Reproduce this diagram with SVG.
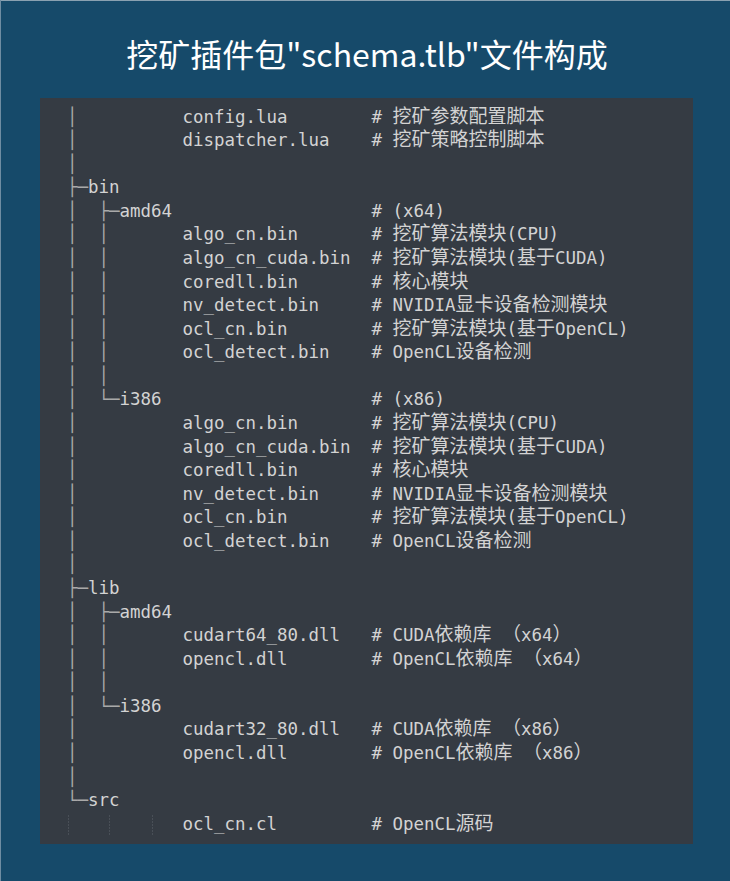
<svg xmlns="http://www.w3.org/2000/svg" width="730" height="881" viewBox="0 0 730 881">
<style>
.m{font-family:"DejaVu Sans Mono","Liberation Mono",monospace;font-size:17.45px;fill:#d3d3d3}
.c{font-family:"Noto Sans CJK SC","Noto Sans",sans-serif;font-size:19px}
.t{fill:#a9a9a9}
.g{stroke:#5f656d;stroke-width:1;stroke-dasharray:1 2}
</style>
<rect x="0" y="0" width="730" height="881" fill="#164a6a"/>
<line x1="0" y1="0.5" x2="730" y2="0.5" stroke="#8aa1b1"/>
<line x1="0.5" y1="0" x2="0.5" y2="881" stroke="#6f8da2"/>
<g id="title">
<text x="367" y="67" text-anchor="middle" font-family="'Noto Sans CJK SC','Noto Sans',sans-serif" font-size="32" fill="#ffffff">挖矿插件包"schema.tlb"文件构成</text>
</g>
<rect id="panel" x="40" y="98" width="653" height="746" fill="#353b43"/>
<g transform="translate(0,1.5)">
<g id="connectors" class="m">
<text x="67" y="121"><tspan class="t">│</tspan></text>
<text x="67" y="144.6"><tspan class="t">│</tspan></text>
<text x="67" y="168.1"><tspan class="t">│</tspan></text>
<text x="67" y="191.7"><tspan class="t">├─</tspan></text>
<text x="67" y="215.3"><tspan class="t">│</tspan><tspan class="t" x="98.5">├─</tspan></text>
<text x="67" y="238.9"><tspan class="t">│</tspan><tspan class="t" x="98.5">│</tspan></text>
<text x="67" y="262.4"><tspan class="t">│</tspan><tspan class="t" x="98.5">│</tspan></text>
<text x="67" y="286"><tspan class="t">│</tspan><tspan class="t" x="98.5">│</tspan></text>
<text x="67" y="309.6"><tspan class="t">│</tspan><tspan class="t" x="98.5">│</tspan></text>
<text x="67" y="333.1"><tspan class="t">│</tspan><tspan class="t" x="98.5">│</tspan></text>
<text x="67" y="356.7"><tspan class="t">│</tspan><tspan class="t" x="98.5">│</tspan></text>
<text x="67" y="380.3"><tspan class="t">│</tspan><tspan class="t" x="98.5">│</tspan></text>
<text x="67" y="403.8"><tspan class="t">│</tspan><tspan class="t" x="98.5">└─</tspan></text>
<text x="67" y="427.4"><tspan class="t">│</tspan></text>
<text x="67" y="451"><tspan class="t">│</tspan></text>
<text x="67" y="474.6"><tspan class="t">│</tspan></text>
<text x="67" y="498.1"><tspan class="t">│</tspan></text>
<text x="67" y="521.7"><tspan class="t">│</tspan></text>
<text x="67" y="545.3"><tspan class="t">│</tspan></text>
<text x="67" y="568.8"><tspan class="t">│</tspan></text>
<text x="67" y="592.4"><tspan class="t">├─</tspan></text>
<text x="67" y="616"><tspan class="t">│</tspan><tspan class="t" x="98.5">├─</tspan></text>
<text x="67" y="639.5"><tspan class="t">│</tspan><tspan class="t" x="98.5">│</tspan></text>
<text x="67" y="663.1"><tspan class="t">│</tspan><tspan class="t" x="98.5">│</tspan></text>
<text x="67" y="686.7"><tspan class="t">│</tspan><tspan class="t" x="98.5">│</tspan></text>
<text x="67" y="710.3"><tspan class="t">│</tspan><tspan class="t" x="98.5">└─</tspan></text>
<text x="67" y="733.8"><tspan class="t">│</tspan></text>
<text x="67" y="757.4"><tspan class="t">│</tspan></text>
<text x="67" y="781"><tspan class="t">│</tspan></text>
<text x="67" y="804.5"><tspan class="t">└─</tspan></text>
<line class="g" x1="68.5" y1="814" x2="68.5" y2="833"/>
<line class="g" x1="109.5" y1="814" x2="109.5" y2="833"/>
<line class="g" x1="152.5" y1="814" x2="152.5" y2="833"/>
</g>
<g id="dir-bin" class="m"><text x="88" y="191.7">bin</text></g>
<g id="dir-bin-amd64" class="m"><text x="119.5" y="215.3">amd64</text><text x="371.5" y="215.3"># (x64)</text></g>
<g id="dir-bin-i386" class="m"><text x="119.5" y="403.8">i386</text><text x="371.5" y="403.8"># (x86)</text></g>
<g id="dir-lib" class="m"><text x="88" y="592.4">lib</text></g>
<g id="dir-lib-amd64" class="m"><text x="119.5" y="616">amd64</text></g>
<g id="dir-lib-i386" class="m"><text x="119.5" y="710.3">i386</text></g>
<g id="dir-src" class="m"><text x="88" y="804.5">src</text></g>
<g id="f-config" class="m"><text x="182.5" y="121">config.lua</text><text x="371.5" y="121"># <tspan class="c">挖矿参数配置脚本</tspan></text></g>
<g id="f-dispatcher" class="m"><text x="182.5" y="144.6">dispatcher.lua</text><text x="371.5" y="144.6"># <tspan class="c">挖矿策略控制脚本</tspan></text></g>
<g id="f-bin64-algo" class="m"><text x="182.5" y="238.9">algo_cn.bin</text><text x="371.5" y="238.9"># <tspan class="c">挖矿算法模块</tspan>(CPU)</text></g>
<g id="f-bin64-cuda" class="m"><text x="182.5" y="262.4">algo_cn_cuda.bin</text><text x="371.5" y="262.4"># <tspan class="c">挖矿算法模块</tspan>(<tspan class="c">基于</tspan>CUDA)</text></g>
<g id="f-bin64-core" class="m"><text x="182.5" y="286">coredll.bin</text><text x="371.5" y="286"># <tspan class="c">核心模块</tspan></text></g>
<g id="f-bin64-nv" class="m"><text x="182.5" y="309.6">nv_detect.bin</text><text x="371.5" y="309.6"># NVIDIA<tspan class="c">显卡设备检测模块</tspan></text></g>
<g id="f-bin64-ocl" class="m"><text x="182.5" y="333.1">ocl_cn.bin</text><text x="371.5" y="333.1"># <tspan class="c">挖矿算法模块</tspan>(<tspan class="c">基于</tspan>OpenCL)</text></g>
<g id="f-bin64-ocldet" class="m"><text x="182.5" y="356.7">ocl_detect.bin</text><text x="371.5" y="356.7"># OpenCL<tspan class="c">设备检测</tspan></text></g>
<g id="f-bin32-algo" class="m"><text x="182.5" y="427.4">algo_cn.bin</text><text x="371.5" y="427.4"># <tspan class="c">挖矿算法模块</tspan>(CPU)</text></g>
<g id="f-bin32-cuda" class="m"><text x="182.5" y="451">algo_cn_cuda.bin</text><text x="371.5" y="451"># <tspan class="c">挖矿算法模块</tspan>(<tspan class="c">基于</tspan>CUDA)</text></g>
<g id="f-bin32-core" class="m"><text x="182.5" y="474.6">coredll.bin</text><text x="371.5" y="474.6"># <tspan class="c">核心模块</tspan></text></g>
<g id="f-bin32-nv" class="m"><text x="182.5" y="498.1">nv_detect.bin</text><text x="371.5" y="498.1"># NVIDIA<tspan class="c">显卡设备检测模块</tspan></text></g>
<g id="f-bin32-ocl" class="m"><text x="182.5" y="521.7">ocl_cn.bin</text><text x="371.5" y="521.7"># <tspan class="c">挖矿算法模块</tspan>(<tspan class="c">基于</tspan>OpenCL)</text></g>
<g id="f-bin32-ocldet" class="m"><text x="182.5" y="545.3">ocl_detect.bin</text><text x="371.5" y="545.3"># OpenCL<tspan class="c">设备检测</tspan></text></g>
<g id="f-lib64-cudart" class="m"><text x="182.5" y="639.5">cudart64_80.dll</text><text x="371.5" y="639.5"># CUDA<tspan class="c">依赖库</tspan> <tspan class="c">（</tspan>x64<tspan class="c">）</tspan></text></g>
<g id="f-lib64-opencl" class="m"><text x="182.5" y="663.1">opencl.dll</text><text x="371.5" y="663.1"># OpenCL<tspan class="c">依赖库</tspan> <tspan class="c">（</tspan>x64<tspan class="c">）</tspan></text></g>
<g id="f-lib32-cudart" class="m"><text x="182.5" y="733.8">cudart32_80.dll</text><text x="371.5" y="733.8"># CUDA<tspan class="c">依赖库</tspan> <tspan class="c">（</tspan>x86<tspan class="c">）</tspan></text></g>
<g id="f-lib32-opencl" class="m"><text x="182.5" y="757.4">opencl.dll</text><text x="371.5" y="757.4"># OpenCL<tspan class="c">依赖库</tspan> <tspan class="c">（</tspan>x86<tspan class="c">）</tspan></text></g>
<g id="f-src-ocl" class="m"><text x="182.5" y="828.1">ocl_cn.cl</text><text x="371.5" y="828.1"># OpenCL<tspan class="c">源码</tspan></text></g>
</g>
</svg>
